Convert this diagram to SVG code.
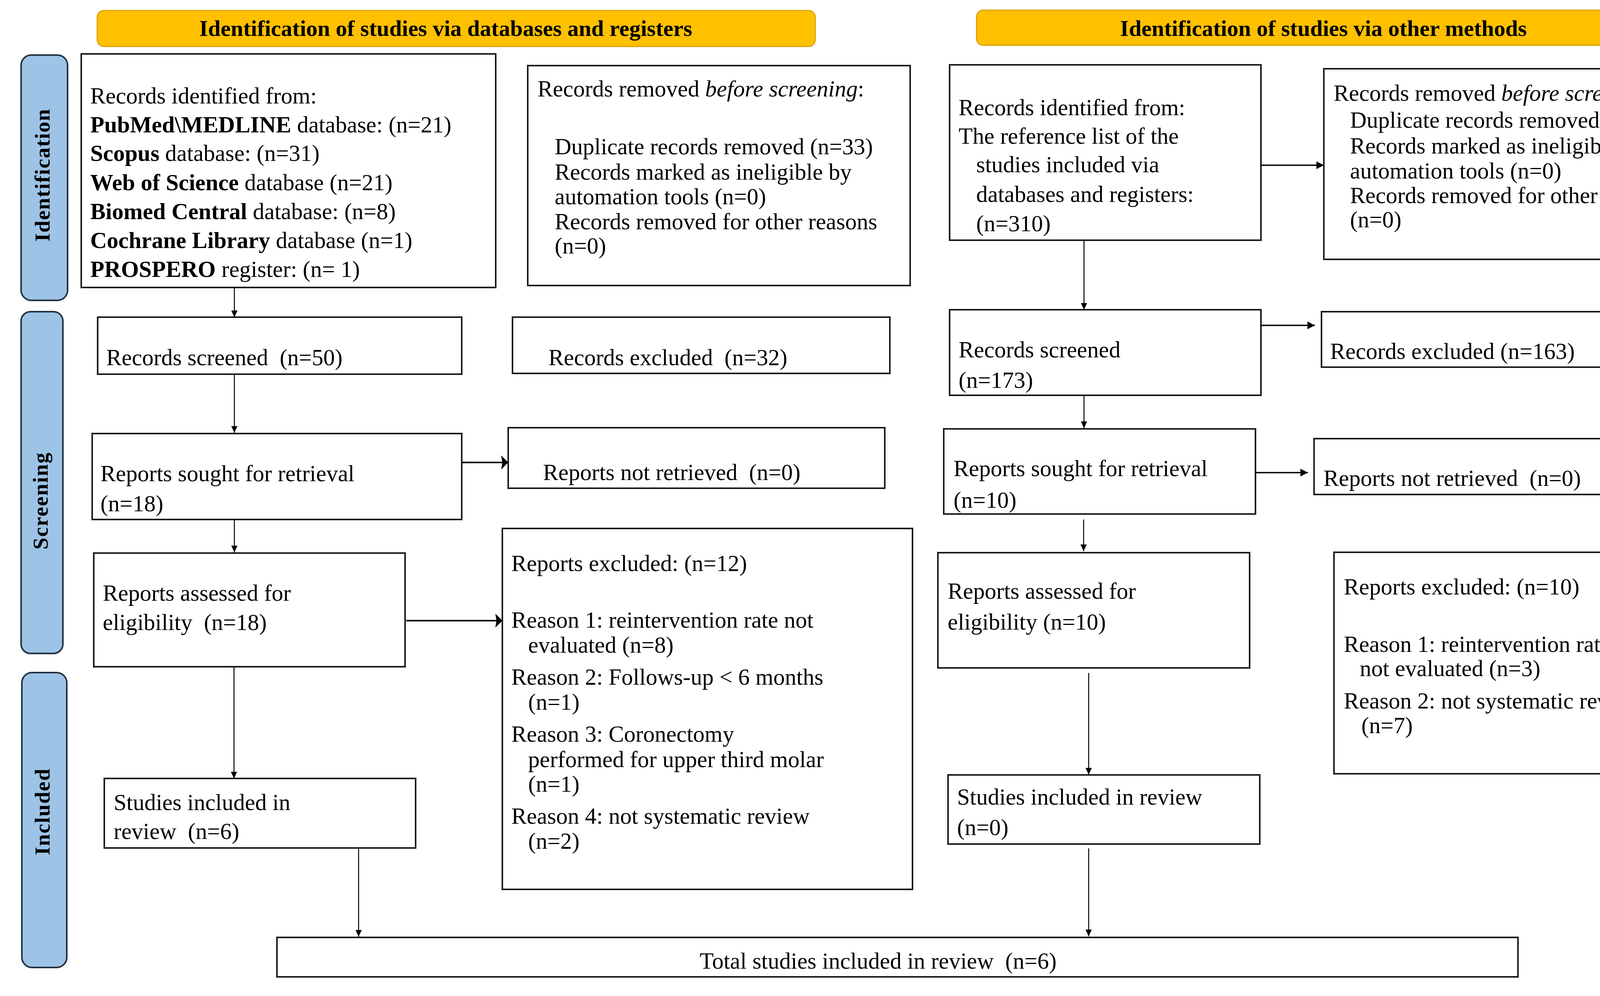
<svg xmlns="http://www.w3.org/2000/svg" width="4440" height="2550" viewBox="0 0 4440 2550">
<style>
text{font-family:"Liberation Serif","Times New Roman",serif;fill:#000}
.t{font-size:59px}
.b{font-weight:bold}
.i{font-style:italic}
.hdr{font-size:58px;font-weight:bold;text-anchor:middle}
.side{font-size:55px;font-weight:bold;text-anchor:middle}
.box{fill:#fff;stroke:#1a1a1a;stroke-width:4}
.hbox{fill:#FFC000;stroke:#D9A300;stroke-width:3}
.sbox{fill:#9DC3E6;stroke:#22313F;stroke-width:4}
.c{stroke:#000;fill:none}
.v{stroke-width:2.5;marker-end:url(#ms)}
.hb{stroke-width:4;marker-end:url(#mb)}
.hm{stroke-width:3.5;marker-end:url(#mm)}
</style>
<defs>
<marker id="ms" markerUnits="userSpaceOnUse" markerWidth="17" markerHeight="16" refX="17" refY="8" orient="auto"><path d="M0,0 L17,8 L0,16 z" fill="#000"/></marker>
<marker id="mm" markerUnits="userSpaceOnUse" markerWidth="19" markerHeight="20" refX="19" refY="10" orient="auto"><path d="M0,0 L19,10 L0,20 z" fill="#000"/></marker>
<marker id="mb" markerUnits="userSpaceOnUse" markerWidth="18" markerHeight="36" refX="18" refY="18" orient="auto"><path d="M0,0 L18,18 L0,36 L3,18 z" fill="#000"/></marker>
</defs>
<rect width="4440" height="2550" fill="#fff"/>

<g id="header-left"><rect class="hbox" x="249" y="27" width="1838" height="92" rx="17"/><text class="hdr" x="1141" y="92">Identification of studies via databases and registers</text></g>
<g id="header-right"><rect class="hbox" x="2500" y="26" width="1831" height="90" rx="17"/><text class="hdr" x="3388" y="92">Identification of studies via other methods</text></g>

<g id="phase-identification"><rect class="sbox" x="54" y="141" width="119" height="628" rx="26"/><text class="side" transform="translate(127,449) rotate(-90)" textLength="339" lengthAdjust="spacing">Identification</text></g>
<g id="phase-screening"><rect class="sbox" x="54" y="798" width="107" height="875" rx="24"/><text class="side" transform="translate(122,1283) rotate(-90)" textLength="248" lengthAdjust="spacing">Screening</text></g>
<g id="phase-included"><rect class="sbox" x="56" y="1722" width="115" height="755" rx="26"/><text class="side" transform="translate(127,2079) rotate(-90)" textLength="221" lengthAdjust="spacing">Included</text></g>

<g id="db-identified"><rect class="box" x="208" y="138" width="1061" height="598"/>
<text class="t" x="231" y="265">Records identified from:</text>
<text class="t" x="231" y="339"><tspan class="b">PubMed\MEDLINE</tspan> database: (n=21)</text>
<text class="t" x="231" y="412"><tspan class="b">Scopus</tspan> database: (n=31)</text>
<text class="t" x="231" y="487"><tspan class="b">Web of Science</tspan> database (n=21)</text>
<text class="t" x="231" y="561"><tspan class="b">Biomed Central</tspan> database: (n=8)</text>
<text class="t" x="231" y="635"><tspan class="b">Cochrane Library</tspan> database (n=1)</text>
<text class="t" x="231" y="709"><tspan class="b">PROSPERO</tspan> register: (n= 1)</text></g>

<g id="db-removed"><rect class="box" x="1351" y="168" width="979" height="563"/>
<text class="t" x="1376" y="247">Records removed <tspan class="i">before screening</tspan>:</text>
<text class="t" x="1420" y="395">Duplicate records removed (n=33)</text>
<text class="t" x="1420" y="460">Records marked as ineligible by</text>
<text class="t" x="1420" y="523">automation tools (n=0)</text>
<text class="t" x="1420" y="587">Records removed for other reasons</text>
<text class="t" x="1420" y="649">(n=0)</text></g>

<g id="db-screened"><rect class="box" x="250" y="812" width="932" height="146"/><text class="t" x="272" y="935" xml:space="preserve">Records screened  (n=50)</text></g>
<g id="db-excluded"><rect class="box" x="1312" y="812" width="966" height="144"/><text class="t" x="1404" y="935" xml:space="preserve">Records excluded  (n=32)</text></g>
<g id="db-sought"><rect class="box" x="236" y="1110" width="946" height="220"/><text class="t" x="257" y="1232">Reports sought for retrieval</text><text class="t" x="257" y="1309">(n=18)</text></g>
<g id="db-notretrieved"><rect class="box" x="1301" y="1095" width="964" height="155"/><text class="t" x="1390" y="1229" xml:space="preserve">Reports not retrieved  (n=0)</text></g>
<g id="db-assessed"><rect class="box" x="240" y="1416" width="797" height="291"/><text class="t" x="263" y="1538">Reports assessed for</text><text class="t" x="263" y="1613" xml:space="preserve">eligibility  (n=18)</text></g>
<g id="db-reports-excluded"><rect class="box" x="1286" y="1353" width="1050" height="924"/>
<text class="t" x="1309" y="1462">Reports excluded: (n=12)</text>
<text class="t" x="1309" y="1607">Reason 1: reintervention rate not</text>
<text class="t" x="1352" y="1671">evaluated (n=8)</text>
<text class="t" x="1309" y="1753">Reason 2: Follows-up &lt; 6 months</text>
<text class="t" x="1352" y="1817">(n=1)</text>
<text class="t" x="1309" y="1899">Reason 3: Coronectomy</text>
<text class="t" x="1352" y="1964">performed for upper third molar</text>
<text class="t" x="1352" y="2027">(n=1)</text>
<text class="t" x="1309" y="2109">Reason 4: not systematic review</text>
<text class="t" x="1352" y="2173">(n=2)</text></g>
<g id="db-included"><rect class="box" x="267" y="1993" width="797" height="178"/><text class="t" x="291" y="2074">Studies included in</text><text class="t" x="291" y="2148" xml:space="preserve">review  (n=6)</text></g>

<g id="om-identified"><rect class="box" x="2431" y="166" width="797" height="449"/>
<text class="t" x="2454" y="295">Records identified from:</text>
<text class="t" x="2454" y="368">The reference list of the</text>
<text class="t" x="2499" y="441">studies included via</text>
<text class="t" x="2499" y="517">databases and registers:</text>
<text class="t" x="2499" y="592">(n=310)</text></g>
<g id="om-removed"><rect class="box" x="3389" y="176" width="993" height="488"/>
<text class="t" x="3414" y="258">Records removed <tspan class="i">before screening</tspan>:</text>
<text class="t" x="3456" y="327">Duplicate records removed (n=137)</text>
<text class="t" x="3456" y="393">Records marked as ineligible by</text>
<text class="t" x="3456" y="457">automation tools (n=0)</text>
<text class="t" x="3456" y="520" xml:space="preserve">Records removed for other  reasons</text>
<text class="t" x="3456" y="582">(n=0)</text></g>
<g id="om-screened"><rect class="box" x="2431" y="793" width="797" height="219"/><text class="t" x="2454" y="915">Records screened</text><text class="t" x="2454" y="993">(n=173)</text></g>
<g id="om-excluded"><rect class="box" x="3383" y="798" width="999" height="142"/><text class="t" x="3405" y="919">Records excluded (n=163)</text></g>
<g id="om-sought"><rect class="box" x="2416" y="1098" width="798" height="218"/><text class="t" x="2441" y="1219">Reports sought for retrieval</text><text class="t" x="2441" y="1300">(n=10)</text></g>
<g id="om-notretrieved"><rect class="box" x="3364" y="1123" width="994" height="143"/><text class="t" x="3388" y="1244" xml:space="preserve">Reports not retrieved  (n=0)</text></g>
<g id="om-assessed"><rect class="box" x="2401" y="1415" width="798" height="295"/><text class="t" x="2426" y="1533">Reports assessed for</text><text class="t" x="2426" y="1612">eligibility (n=10)</text></g>
<g id="om-reports-excluded"><rect class="box" x="3415" y="1414" width="994" height="567"/>
<text class="t" x="3440" y="1522">Reports excluded: (n=10)</text>
<text class="t" x="3440" y="1669">Reason 1: reintervention rate</text>
<text class="t" x="3481" y="1731">not evaluated (n=3)</text>
<text class="t" x="3440" y="1814">Reason 2: not systematic review</text>
<text class="t" x="3485" y="1877">(n=7)</text></g>
<g id="om-included"><rect class="box" x="2427" y="1984" width="798" height="177"/><text class="t" x="2450" y="2060">Studies included in review</text><text class="t" x="2450" y="2138">(n=0)</text></g>

<g id="total"><rect class="box" x="709" y="2400" width="3177" height="101"/><text class="t" x="1791" y="2480" xml:space="preserve">Total studies included in review  (n=6)</text></g>

<g id="connectors">
<line class="c v" x1="600" y1="736" x2="600" y2="812"/>
<line class="c v" x1="600" y1="958" x2="600" y2="1108"/>
<line class="c hb" x1="1184" y1="1184" x2="1301" y2="1184"/>
<line class="c v" x1="600" y1="1330" x2="600" y2="1414"/>
<line class="c hb" x1="1040" y1="1589" x2="1286" y2="1589"/>
<line class="c v" x1="599" y1="1709" x2="599" y2="1993"/>
<line class="c v" x1="918" y1="2171" x2="918" y2="2398"/>
<line class="c hm" x1="3228" y1="423" x2="3389" y2="423"/>
<line class="c v" x1="2775" y1="615" x2="2775" y2="793"/>
<line class="c hm" x1="3228" y1="833" x2="3366" y2="833"/>
<line class="c v" x1="2775" y1="1012" x2="2775" y2="1096"/>
<line class="c hm" x1="3214" y1="1210" x2="3348" y2="1210"/>
<line class="c v" x1="2774" y1="1330" x2="2774" y2="1411"/>
<line class="c v" x1="2787" y1="1723" x2="2787" y2="1983"/>
<line class="c v" x1="2787" y1="2172" x2="2787" y2="2397"/>
</g>
</svg>
